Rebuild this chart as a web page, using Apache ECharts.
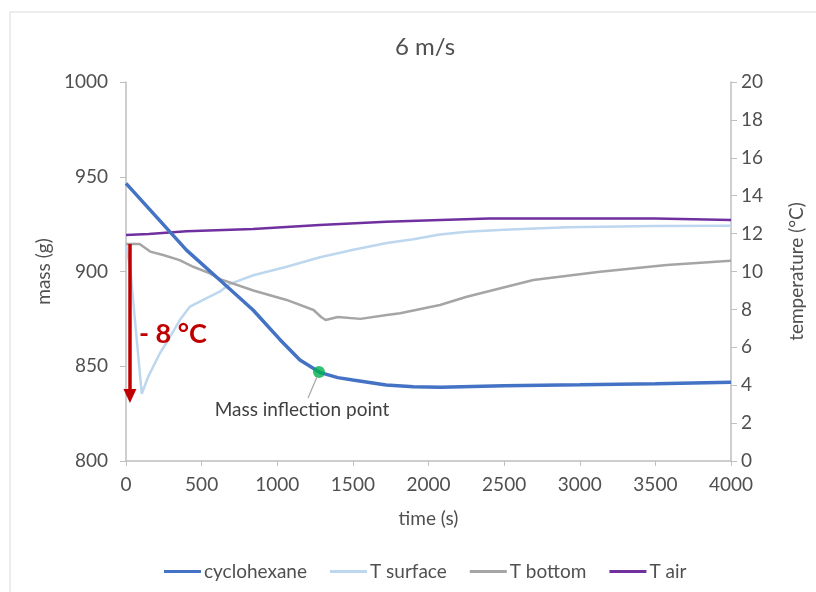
<!DOCTYPE html>
<html>
<head>
<meta charset="utf-8">
<script src="https://cdn.jsdelivr.net/npm/echarts@6/dist/echarts.min.js"></script>
<style>
	html, body { margin: 0; padding: 0; background: #fff; }
	#chart { width: 816px; height: 592px; }
</style>
</head>
<body>
<div id="chart"></div>
<script>
(function(){

	// mass of cyclohexane (g), left axis
	var massTime   = [0, 180, 400, 620, 840, 1020, 1150, 1280, 1400, 1500, 1720, 1900, 2080, 2500, 3000, 3500, 4000];
	var massValues = [946.5, 930.7, 911.3, 895.5, 879.7, 863.9, 853.3, 846.8, 844.0, 842.7, 840.1, 839.2, 838.9, 839.7, 840.2, 840.8, 841.5];

	// temperatures (°C), right axis
	var surfTime   = [0, 30, 70, 104, 147, 225, 280, 357, 423, 533, 622, 688, 842, 1062, 1283, 1503, 1724, 1900, 2076, 2253, 2500, 2914, 3500, 4000];
	var surfValues = [11.5, 10.0, 6.5, 3.55, 4.45, 5.7, 6.4, 7.45, 8.15, 8.6, 8.95, 9.35, 9.8, 10.25, 10.75, 11.15, 11.5, 11.7, 11.95, 12.1, 12.2, 12.33, 12.4, 12.42];

	var botTime   = [0, 90, 160, 245, 355, 445, 555, 622, 842, 1062, 1240, 1290, 1320, 1400, 1550, 1724, 1812, 2076, 2253, 2693, 3134, 3575, 4000];
	var botValues = [11.45, 11.45, 11.05, 10.87, 10.6, 10.25, 9.9, 9.6, 9.0, 8.5, 7.97, 7.6, 7.44, 7.6, 7.5, 7.7, 7.8, 8.23, 8.67, 9.55, 9.99, 10.34, 10.57];

	var airTime   = [0, 150, 400, 840, 1280, 1720, 2080, 2400, 3000, 3500, 4000];
	var airValues = [11.93, 11.98, 12.12, 12.24, 12.45, 12.63, 12.72, 12.8, 12.8, 12.8, 12.72];

	var inflectionPoint = [1276, 847];
	// "-8 °C" arrow : time, temp from / temp to
	var dropTime = 26;
	var dropFrom = 11.45;
	var dropTo   = 3.43;

	var seriesNames = [ "cyclohexane", "T surface", "T bottom", "T air" ];

	var zip = function( xs, ys ){
		var out = [];
		for( var i = 0; i < xs.length; ++i ) out.push( [ xs[ i ], ys[ i ] ] );
		return out;
	};

	var FONT = "Lato";
	var TXT = "#505050";
	var AXIS = "#bfbfbf";
	var plain = function( v ){ return String( v ); };

	var dom = window.document.getElementById( "chart" );
	var myChart = echarts.init( dom, null, { renderer : "canvas" } );

	var option = {
		animation : false,
		backgroundColor : "#fff",
		textStyle : { fontFamily : FONT },
		title : {
			text : "6 m/s",
			left : 390,
			top : 30,
			textStyle : { fontFamily : FONT, fontSize : 24, fontWeight : "normal", color : TXT }
		},
		grid : { left : 126, right : 85, top : 82, bottom : 131 },
		legend : {
			data : seriesNames,
			bottom : 6,
			left : 159,
			icon : "rect",
			itemWidth : 37,
			itemHeight : 3,
			itemGap : 23,
			textStyle : { fontFamily : FONT, fontSize : 19, color : TXT, padding : [ 0, 0, 0, -2 ] }
		},
		xAxis : {
			type : "value",
			min : 0, max : 4000, interval : 500,
			name : "time (s)",
			nameLocation : "middle",
			nameGap : 48,
			nameTextStyle : { fontFamily : FONT, fontSize : 19, color : TXT },
			axisLine : { show : true, lineStyle : { color : AXIS, width : 1.5 } },
			axisTick : { show : true, length : 5, lineStyle : { color : AXIS } },
			axisLabel : { fontFamily : FONT, fontSize : 19, color : TXT, margin : 14, formatter : plain },
			splitLine : { show : false }
		},
		yAxis : [
			{
				type : "value",
				min : 800, max : 1000, interval : 50,
				name : "mass (g)",
				nameLocation : "middle",
				nameGap : 66,
				nameTextStyle : { fontFamily : FONT, fontSize : 19, color : TXT },
				axisLine : { show : true, lineStyle : { color : AXIS, width : 1.5 } },
				axisTick : { show : true, length : 6, lineStyle : { color : AXIS } },
				axisLabel : { fontFamily : FONT, fontSize : 19, color : TXT, margin : 18, formatter : plain },
				splitLine : { show : false }
			},
			{
				type : "value",
				min : 0, max : 20, interval : 2,
				position : "right",
				name : "temperature (°C)",
				nameLocation : "middle",
				nameGap : 56,
				nameTextStyle : { fontFamily : FONT, fontSize : 19, color : TXT },
				axisLine : { show : true, lineStyle : { color : AXIS, width : 1.5 } },
				axisTick : { show : true, length : 6, lineStyle : { color : AXIS } },
				axisLabel : { fontFamily : FONT, fontSize : 19, color : TXT, margin : 10, formatter : plain },
				splitLine : { show : false }
			}
		],
		series : [
			{
				name : seriesNames[ 1 ],
				type : "line",
				yAxisIndex : 1,
				symbol : "none",
				data : zip( surfTime, surfValues ),
				lineStyle : { color : "#bdd7ee", width : 2.5 },
				itemStyle : { color : "#bdd7ee" },
				z : 2,
				markLine : {
					silent : true,
					symbol : [ "none", "triangle" ],
					symbolSize : [ 13, 14 ],
					symbolRotate : 180,
					label : { show : false },
					lineStyle : { color : "#c00000", width : 3.5, type : "solid" },
					data : [ [ { coord : [ dropTime, dropFrom ] }, { coord : [ dropTime, dropTo ] } ] ]
				}
			},
			{
				name : seriesNames[ 2 ],
				type : "line",
				yAxisIndex : 1,
				symbol : "none",
				data : zip( botTime, botValues ),
				lineStyle : { color : "#a5a5a5", width : 2.5 },
				itemStyle : { color : "#a5a5a5" },
				z : 2
			},
			{
				name : seriesNames[ 3 ],
				type : "line",
				yAxisIndex : 1,
				symbol : "none",
				data : zip( airTime, airValues ),
				lineStyle : { color : "#7030a0", width : 2.5 },
				itemStyle : { color : "#7030a0" },
				z : 2
			},
			{
				name : seriesNames[ 0 ],
				type : "line",
				yAxisIndex : 0,
				symbol : "none",
				data : zip( massTime, massValues ),
				lineStyle : { color : "#4472c4", width : 3.5 },
				itemStyle : { color : "#4472c4" },
				z : 3
			},
			{
				name : "inflection",
				type : "scatter",
				yAxisIndex : 0,
				data : [ inflectionPoint ],
				symbolSize : 12,
				itemStyle : { color : "#00b050" },
				z : 4
			}
		]
	};

	myChart.setOption( option, true );

	// annotations placed from data coordinates
	var p = myChart.convertToPixel( { xAxisIndex : 0, yAxisIndex : 0 }, inflectionPoint );
	var lbl = myChart.convertToPixel( { xAxisIndex : 0, yAxisIndex : 1 }, [ dropTime, 6.7 ] );

	myChart.setOption({
		graphic : [
			{
				type : "rect",
				shape : { x : 10, y : 12, width : 900, height : 700 },
				style : { fill : "none", stroke : "#d9d9d9", lineWidth : 1 },
				silent : true, z : -10
			},
			{
				type : "line",
				shape : { x1 : p[ 0 ] - 2, y1 : p[ 1 ] + 5, x2 : p[ 0 ] - 11, y2 : p[ 1 ] + 26 },
				style : { stroke : "#a6a6a6", lineWidth : 1.2 },
				z : 10
			},
			{
				type : "text",
				x : p[ 0 ] - 17, y : p[ 1 ] + 38,
				style : {
					text : "Mass inflection point",
					fill : "#404040",
					font : "19px " + FONT,
					align : "center",
					verticalAlign : "middle"
				},
				z : 10
			},
			{
				type : "text",
				x : lbl[ 0 ] + 9, y : lbl[ 1 ],
				style : {
					text : "- 8 °C",
					fill : "#c00000",
					font : "bold 27px " + FONT,
					align : "left",
					verticalAlign : "middle"
				},
				z : 10
			}
		]
	});

	window.addEventListener( "resize", function(e){ myChart.resize(); } );
})();
</script>
</body>
</html>
